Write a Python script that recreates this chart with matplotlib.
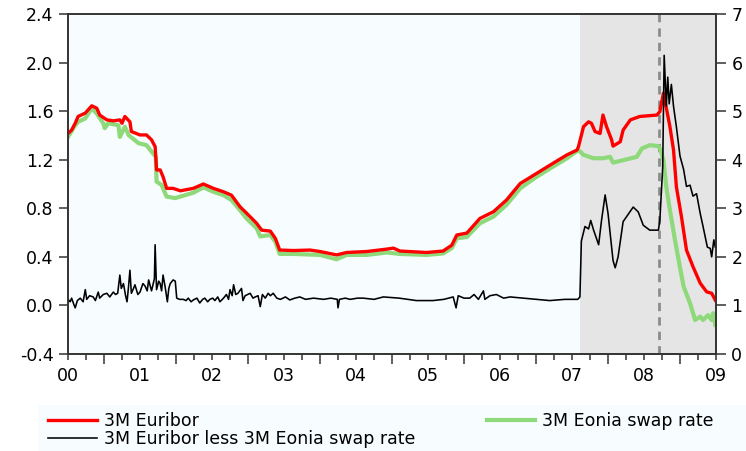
import numpy as np
import matplotlib.pyplot as plt
from matplotlib.patches import Rectangle

# decimal years, values in % (right axis)
eur_t = [2000.50, 2000.55, 2000.60, 2000.64, 2000.74, 2000.83, 2000.90, 2000.94, 2001.04, 2001.13,
         2001.22, 2001.25, 2001.29, 2001.36, 2001.38, 2001.50, 2001.59, 2001.66, 2001.71, 2001.73,
         2001.78, 2001.82, 2001.87, 2001.96, 2002.06, 2002.24, 2002.38, 2002.52, 2002.66, 2002.77,
         2002.89, 2002.98, 2003.12, 2003.19, 2003.31, 2003.38, 2003.44, 2003.63, 2003.86, 2004.00,
         2004.23, 2004.37, 2004.65, 2004.93, 2005.02, 2005.11, 2005.48, 2005.71, 2005.83, 2005.90,
         2006.04, 2006.22, 2006.41, 2006.59, 2006.78, 2007.01, 2007.24, 2007.43, 2007.57, 2007.59,
         2007.66, 2007.73, 2007.77, 2007.82, 2007.89, 2007.93, 2007.98, 2008.05, 2008.07, 2008.17,
         2008.21, 2008.31, 2008.44, 2008.68, 2008.72, 2008.77, 2008.82, 2008.86, 2008.91, 2008.95,
         2009.02, 2009.09, 2009.18, 2009.28, 2009.37, 2009.44, 2009.49]
euribor = [4.54, 4.61, 4.75, 4.89, 4.96, 5.11, 5.06, 4.92, 4.82, 4.80,
           4.82, 4.75, 4.89, 4.78, 4.58, 4.51, 4.51, 4.41, 4.27, 3.79,
           3.79, 3.65, 3.41, 3.41, 3.36, 3.41, 3.50, 3.41, 3.34, 3.27,
           3.03, 2.90, 2.69, 2.55, 2.53, 2.38, 2.14, 2.13, 2.14, 2.11,
           2.04, 2.09, 2.11, 2.16, 2.18, 2.12, 2.09, 2.12, 2.24, 2.45,
           2.49, 2.79, 2.93, 3.17, 3.51, 3.72, 3.93, 4.10, 4.20, 4.27,
           4.68, 4.78, 4.75, 4.58, 4.54, 4.92, 4.68, 4.41, 4.28, 4.37,
           4.61, 4.82, 4.89, 4.92, 4.99, 5.37, 4.99, 4.68, 4.20, 3.44,
           2.83, 2.14, 1.80, 1.46, 1.28, 1.25, 1.11]

eon_t = [2000.50, 2000.60, 2000.64, 2000.74, 2000.83, 2000.90, 2000.99, 2001.01, 2001.06, 2001.20,
         2001.22, 2001.29, 2001.34, 2001.48, 2001.59, 2001.68, 2001.72, 2001.73, 2001.80, 2001.87,
         2001.99, 2002.24, 2002.38, 2002.52, 2002.66, 2002.77, 2002.89, 2002.98, 2003.12, 2003.17,
         2003.31, 2003.38, 2003.44, 2003.63, 2004.00, 2004.23, 2004.37, 2004.65, 2004.93, 2005.11,
         2005.48, 2005.71, 2005.83, 2005.90, 2006.04, 2006.22, 2006.41, 2006.59, 2006.78, 2007.01,
         2007.24, 2007.43, 2007.59, 2007.66, 2007.80, 2007.93, 2008.03, 2008.07, 2008.21, 2008.40,
         2008.47, 2008.58, 2008.70, 2008.73, 2008.77, 2008.81, 2008.86, 2008.93, 2008.98, 2009.05,
         2009.14, 2009.21, 2009.28, 2009.32, 2009.39, 2009.44, 2009.46, 2009.49]
eonia = [4.47, 4.71, 4.78, 4.85, 5.06, 4.95, 4.75, 4.65, 4.75, 4.71,
         4.47, 4.68, 4.51, 4.34, 4.30, 4.13, 4.06, 3.55, 3.48, 3.24,
         3.21, 3.32, 3.43, 3.34, 3.27, 3.17, 2.96, 2.79, 2.59, 2.42,
         2.45, 2.31, 2.06, 2.06, 2.04, 1.95, 2.04, 2.04, 2.09, 2.06,
         2.04, 2.07, 2.18, 2.38, 2.41, 2.69, 2.83, 3.07, 3.41, 3.65,
         3.86, 4.03, 4.20, 4.10, 4.03, 4.03, 4.06, 3.94, 3.99, 4.06,
         4.23, 4.30, 4.28, 4.20, 3.99, 3.44, 2.96, 2.35, 1.94, 1.39,
         1.04, 0.70, 0.77, 0.70, 0.80, 0.70, 0.84, 0.60]

# spread, left axis
spr_t = [2000.50, 2000.53, 2000.55, 2000.58, 2000.60, 2000.63, 2000.67, 2000.71, 2000.74, 2000.76,
         2000.80, 2000.85, 2000.88, 2000.92, 2000.94, 2000.99, 2001.04, 2001.08, 2001.13, 2001.16,
         2001.19, 2001.22, 2001.24, 2001.27, 2001.30, 2001.32, 2001.34, 2001.36, 2001.38, 2001.41,
         2001.43, 2001.47, 2001.50, 2001.54, 2001.57, 2001.60, 2001.62, 2001.66, 2001.68, 2001.70,
         2001.71, 2001.73, 2001.76, 2001.78, 2001.80, 2001.82, 2001.85, 2001.88, 2001.90, 2001.92,
         2001.96, 2001.99, 2002.01, 2002.05, 2002.10, 2002.14, 2002.17, 2002.21, 2002.24, 2002.29,
         2002.33, 2002.37, 2002.40, 2002.44, 2002.47, 2002.51, 2002.54, 2002.58, 2002.61, 2002.66,
         2002.70, 2002.73, 2002.75, 2002.78, 2002.80, 2002.83, 2002.86, 2002.91, 2002.93, 2002.96,
         2003.03, 2003.07, 2003.10, 2003.14, 2003.17, 2003.20, 2003.24, 2003.28, 2003.31, 2003.35,
         2003.40, 2003.45, 2003.52, 2003.58, 2003.65, 2003.72, 2003.80, 2003.91, 2004.05, 2004.15,
         2004.24, 2004.25, 2004.27, 2004.35, 2004.42, 2004.52, 2004.60, 2004.75, 2004.88, 2005.10,
         2005.34, 2005.57, 2005.72, 2005.85, 2005.89, 2005.92, 2006.00, 2006.08, 2006.14, 2006.20,
         2006.27, 2006.29, 2006.36, 2006.45, 2006.55, 2006.64, 2006.82, 2007.00, 2007.19, 2007.40,
         2007.58, 2007.61, 2007.63, 2007.68, 2007.73, 2007.76, 2007.80, 2007.87, 2007.91, 2007.96,
         2008.00, 2008.07, 2008.10, 2008.14, 2008.21, 2008.28, 2008.35, 2008.42, 2008.49, 2008.58,
         2008.70, 2008.72, 2008.76, 2008.78, 2008.81, 2008.83, 2008.85, 2008.88, 2008.91, 2008.95,
         2009.00, 2009.05, 2009.09, 2009.14, 2009.18, 2009.23, 2009.28, 2009.32, 2009.38, 2009.42,
         2009.44, 2009.47, 2009.49]
spread = [0.05, 0.03, 0.06, 0.01, -0.02, 0.04, 0.06, 0.03, 0.13, 0.05,
          0.08, 0.07, 0.04, 0.11, 0.06, 0.09, 0.10, 0.07, 0.11, 0.09,
          0.10, 0.25, 0.14, 0.18, 0.08, 0.03, 0.15, 0.29, 0.10, 0.14,
          0.17, 0.09, 0.11, 0.18, 0.16, 0.12, 0.21, 0.12, 0.17, 0.22,
          0.50, 0.13, 0.20, 0.18, 0.12, 0.25, 0.15, 0.03, 0.14, 0.18,
          0.21, 0.20, 0.06, 0.05, 0.05, 0.04, 0.06, 0.03, 0.045, 0.06,
          0.02, 0.05, 0.06, 0.03, 0.05, 0.06, 0.04, 0.07, 0.03, 0.06,
          0.09, 0.05, 0.13, 0.08, 0.17, 0.09, 0.10, 0.14, 0.04, 0.08,
          0.10, 0.06, 0.07, 0.08, -0.01, 0.09, 0.06, 0.10, 0.08, 0.10,
          0.06, 0.05, 0.07, 0.045, 0.06, 0.07, 0.05, 0.06, 0.05, 0.06,
          0.05, -0.02, 0.05, 0.06, 0.05, 0.06, 0.06, 0.05, 0.07, 0.06,
          0.04, 0.04, 0.05, 0.07, -0.02, 0.08, 0.06, 0.06, 0.09, 0.05,
          0.12, 0.05, 0.08, 0.09, 0.06, 0.07, 0.06, 0.05, 0.04, 0.05,
          0.05, 0.07, 0.53, 0.65, 0.63, 0.70, 0.62, 0.50, 0.70, 0.91,
          0.76, 0.37, 0.31, 0.40, 0.69, 0.75, 0.81, 0.77, 0.66, 0.62,
          0.62, 0.70, 1.14, 2.06, 1.64, 1.88, 1.66, 1.82, 1.64, 1.47,
          1.23, 1.12, 0.98, 0.99, 0.90, 0.92, 0.76, 0.65, 0.48, 0.47,
          0.40, 0.54, 0.48]

crisis_start = 2007.61
lehman = 2008.71
years = np.arange(2001, 2010)
quarters = [2000.5 + 0.25 * i for i in range(37) if (2000.5 + 0.25 * i) % 1 != 0]
qlabels = ["%02d" % (int(q) - 2000) if q % 1 == 0.5 else "" for q in quarters]

plt.rcParams['font.family'] = ['DejaVu Sans']
fig = plt.figure(figsize=(7.46, 4.51), dpi=100)
ax = fig.add_axes([68 / 746, 97 / 451, 648 / 746, 340 / 451])
ax.set_facecolor('#F7FCFE')
ax2 = ax.twinx()

ax.axvspan(crisis_start, 2009.5, color='#E5E5E5', lw=0, zorder=0)
ax.axvline(lehman, color='#8C8C8C', lw=2, ls=(0, (3, 2.2)), zorder=1)

ax.plot(eur_t, euribor, color='#FF0000', lw=2.4, label='3M Euribor', zorder=3)
ax.plot(eon_t, eonia, color='#8ED97A', lw=3.0, label='3M Eonia swap rate', zorder=2)
ax2.plot(spr_t, spread, color='black', lw=1.15, label='3M Euribor less 3M Eonia swap rate')

ax.set_xlim(2000.5, 2009.5)
ax.set_ylim(0, 7)
ax2.set_ylim(-0.4, 2.4)

# rates on the right, spread on the left
ax.yaxis.tick_right()
ax2.yaxis.tick_left()
ax.set_yticks(range(0, 8))
ax2.set_yticks(np.arange(-0.4, 2.41, 0.4))
ax2.set_yticklabels(["%.1f" % v for v in np.arange(-0.4, 2.41, 0.4)])

ax.set_xticks(years, labels=[""] * len(years))
ax.set_xticks(quarters, labels=qlabels, minor=True)
ax.tick_params(axis='x', which='major', length=7, width=1.1, color='#333333')
ax.tick_params(axis='x', which='minor', length=4.5, width=1.1, color='#333333', pad=5, labelsize=12.5)
ax.tick_params(axis='y', length=7, width=1.1, color='#333333', pad=4, labelsize=12.5)
ax2.tick_params(axis='y', length=6.5, width=1.1, color='#333333', pad=4, labelsize=12.5)

for a in (ax, ax2):
    for s in a.spines.values():
        s.set_color('#333333')
        s.set_linewidth(1.2)

fig.patches.append(Rectangle((38 / 746, 0), 708 / 746, 46 / 451, transform=fig.transFigure,
                             facecolor='#F7FCFE', edgecolor='none', zorder=0))
h1, l1 = ax.get_legend_handles_labels()
h2, l2 = ax2.get_legend_handles_labels()
fig.legend([h1[0], h2[0], h1[1]], [l1[0], l2[0], l1[1]], ncol=2, frameon=False,
           loc='upper left', bbox_to_anchor=(38 / 746, 1 - 402 / 451), fontsize=12.5,
           handlelength=2.8, handletextpad=0.4, columnspacing=4.1, labelspacing=0.0,
           borderpad=0.1)

fig.savefig('out.png', dpi=100)
